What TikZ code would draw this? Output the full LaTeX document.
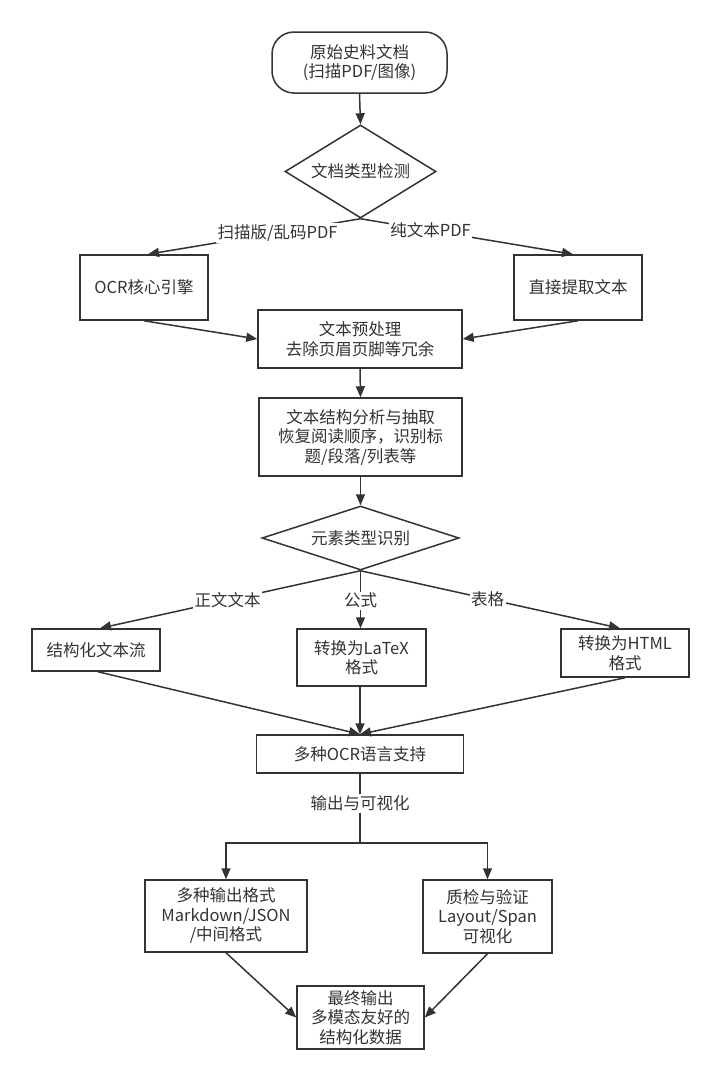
\documentclass[tikz,border=0pt]{standalone}
\usepackage{fontspec}
\setmainfont{Noto Sans CJK SC}
\usetikzlibrary{shapes.geometric,arrows.meta}
\definecolor{linec}{HTML}{333333}
\definecolor{textc}{HTML}{333333}
\tikzset{
  base/.style={draw=linec, line width=1.5pt, fill=white, text=textc, align=center, inner sep=0pt,
    font=\fontsize{16.5}{19.5}\selectfont},
  proc/.style={base, rectangle},
  term/.style={base, rectangle, rounded corners=22pt},
  decide/.style={base, diamond},
  conn/.style={draw=linec, line width=1.5pt, -{Triangle[length=11pt,width=9pt]}},
  plain/.style={draw=linec, line width=1.5pt},
  lab/.style={fill=white, text=textc, inner sep=1.5pt, font=\fontsize{16.5}{19.5}\selectfont}
}
\begin{document}
\begin{tikzpicture}[x=1pt,y=-1pt]
\fill[white] (0,0) rectangle (720,1080);
\useasboundingbox (0,0) rectangle (720,1080);

\node[term, minimum width=175pt, minimum height=61pt] (start) at (359.5,62.5) {原始史料文档\\(扫描PDF/图像)};
\node[decide, shape aspect=1.62, minimum width=151pt, minimum height=93pt] (d1) at (360.5,171.5) {文档类型检测};
\node[proc, minimum width=128pt, minimum height=65pt] (ocr) at (144,287.5) {OCR核心引擎};
\node[proc, minimum width=128pt, minimum height=65pt] (direct) at (578,287.5) {直接提取文本};
\node[proc, minimum width=204pt, minimum height=58pt] (pre) at (360,339) {文本预处理\\去除页眉页脚等冗余};
\node[proc, minimum width=203pt, minimum height=78pt] (struct) at (360.5,437) {文本结构分析与抽取\\恢复阅读顺序，识别标\\题/段落/列表等};
\node[decide, shape aspect=3.08, minimum width=197pt, minimum height=64pt] (d2) at (360.5,538) {元素类型识别};
\node[proc, minimum width=128pt, minimum height=42pt] (flow) at (96,650) {结构化文本流};
\node[proc, minimum width=129pt, minimum height=57pt] (latex) at (361.5,657.5) {转换为LaTeX\\格式};
\node[proc, minimum width=128pt, minimum height=48pt] (html) at (625,653) {转换为HTML\\格式};
\node[proc, minimum width=207pt, minimum height=38pt] (multi) at (360,754) {多种OCR语言支持};
\coordinate (split) at (360,843);
\node[proc, minimum width=162pt, minimum height=72pt] (outfmt) at (226,916) {多种输出格式\\Markdown/JSON\\/中间格式};
\node[proc, minimum width=129pt, minimum height=73pt] (qc) at (487.5,916.5) {质检与验证\\Layout/Span\\可视化};
\node[proc, minimum width=127pt, minimum height=63pt] (final) at (360.5,1017.5) {最终输出\\多模态友好的\\结构化数据};

\draw[conn] (start.south) -- (d1.north);
\draw[conn] (d1.south) -- node[lab, pos=0.39] (l1) {扫描版/乱码PDF} ([xshift=4pt]ocr.north);
\draw[conn] (d1.south) -- node[lab, pos=0.33] (l2) {纯文本PDF} ([xshift=-5pt]direct.north);
\draw[conn] (ocr.south) -- (pre.west);
\draw[conn] (direct.south) -- (pre.east);
\draw[conn] (pre.south) -- (struct.north);
\draw[conn] (struct.south) -- (d2.north);
\draw[conn] (d2.south) -- node[lab, pos=0.51] (l3) {正文文本} ([xshift=4pt]flow.north);
\draw[conn] (d2.south) -- node[lab, pos=0.52] (l4) {公式} (latex.north -| d2.south);
\draw[conn] (d2.south) -- node[lab, pos=0.49] (l5) {表格} ([xshift=-5pt]html.north);
\draw[conn] ([xshift=2pt]flow.south) -- (multi.north);
\draw[conn] (latex.south -| multi.north) -- (multi.north);
\draw[conn] (html.south) -- (multi.north);
\draw[plain] (multi.south) -- node[lab, pos=0.43] (l6) {输出与可视化} (split);
\draw[conn] (split) -| (outfmt.north);
\draw[conn] (split) -| (qc.north);
\draw[conn] (outfmt.south) -- (final.west);
\draw[conn] (qc.south) -- (final.east);
\end{tikzpicture}
\end{document}
